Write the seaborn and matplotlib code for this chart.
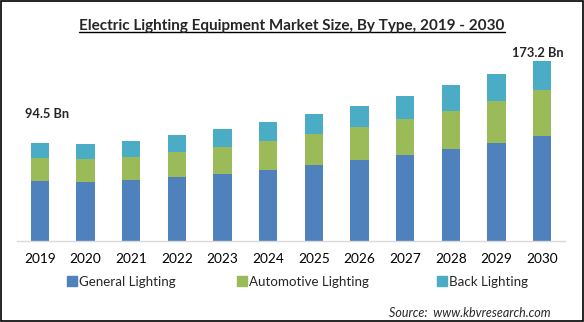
import matplotlib
matplotlib.use("Agg")
import matplotlib.pyplot as plt
from matplotlib.patches import Rectangle
from matplotlib.lines import Line2D
import seaborn as sns
import pandas as pd

years = ["2019", "2020", "2021", "2022", "2023", "2024",
         "2025", "2026", "2027", "2028", "2029", "2030"]
general = [58.0, 56.7, 59.0, 61.5, 64.4, 68.3, 73.1, 77.9, 82.7, 88.5, 94.2, 101.0]
automotive = [21.8, 22.1, 21.8, 24.0, 26.0, 27.9, 29.8, 31.7, 34.6, 36.5, 40.4, 44.2]
back = [14.7, 14.4, 15.4, 16.3, 17.3, 18.3, 19.2, 20.2, 22.1, 25.0, 26.0, 28.0]
series_names = ["General Lighting", "Automotive Lighting", "Back Lighting"]
colors = ["#4F81BD", "#9BBB59", "#4BACC6"]

df = pd.DataFrame({"year": years, "general": general,
                   "automotive": automotive, "back": back})
df["lvl1"] = df["general"]
df["lvl2"] = df["general"] + df["automotive"]
df["lvl3"] = df["lvl2"] + df["back"]

sns.set_style("white")
plt.rcParams["font.family"] = ["Lato", "DejaVu Sans"]

fig = plt.figure(figsize=(5.84, 3.22), dpi=100)
ax = fig.add_axes([0.029, 0.2516, 0.9385, 0.5934])

# stacked bars: draw cumulative totals from the top layer down
for col, c in zip(["lvl3", "lvl2", "lvl1"], colors[::-1]):
    sns.barplot(data=df, x="year", y=col, color=c, width=0.4,
                saturation=1, ax=ax, linewidth=0)

ax.set_xlim(-0.5, 11.5)
ax.set_ylim(0, 183.7)
ax.set_xlabel("")
ax.set_ylabel("")
ax.set_yticks([])
for s in ["top", "right", "left"]:
    ax.spines[s].set_visible(False)
ax.spines["bottom"].set_color("#D9D9D9")
ax.spines["bottom"].set_linewidth(1)
ax.tick_params(axis="x", length=0, labelsize=9.8, pad=9, colors="#000000")

# total value labels for first and last year
ax.text(0 + 0.15, df["lvl3"].iloc[0] + 22, f"{df['lvl3'].iloc[0]:.1f} Bn",
        ha="center", va="bottom", fontsize=9.3, fontweight="bold")
ax.text(11 - 0.1, df["lvl3"].iloc[-1] + 2, f"{df['lvl3'].iloc[-1]:.1f} Bn",
        ha="center", va="bottom", fontsize=9.3, fontweight="bold")

# legend: one entry per block, spaced across the bottom
legend_x = [67, 237, 437]
for name, c, px in zip(series_names, colors, legend_x):
    fig.legend([Rectangle((0, 0), 1, 1, color=c)], [name], loc="center left",
               bbox_to_anchor=(px / 584, 1 - 282 / 322), frameon=False,
               fontsize=9.6, handlelength=0.75, handleheight=0.75,
               handletextpad=0.15, borderpad=0, borderaxespad=0)

# title with underline
title = fig.text(0.5, 0.918, "Electric Lighting Equipment Market Size, By Type, 2019 - 2030",
                 ha="center", va="center", fontsize=11, fontweight="bold")
fig.canvas.draw()
bb = title.get_window_extent().transformed(fig.transFigure.inverted())
fig.add_artist(Line2D([bb.x0, bb.x1], [bb.y0 + 0.004, bb.y0 + 0.004],
                      color="black", linewidth=1, transform=fig.transFigure))

fig.text(0.942, 0.027, "Source:  www.kbvresearch.com", ha="right", va="center",
         fontsize=9, style="italic")

# outer frame
fig.add_artist(Rectangle((0.001, 0.002), 0.997, 0.995, transform=fig.transFigure,
                         fill=False, edgecolor="black", linewidth=1.2))

fig.savefig("out.png", dpi=100)
